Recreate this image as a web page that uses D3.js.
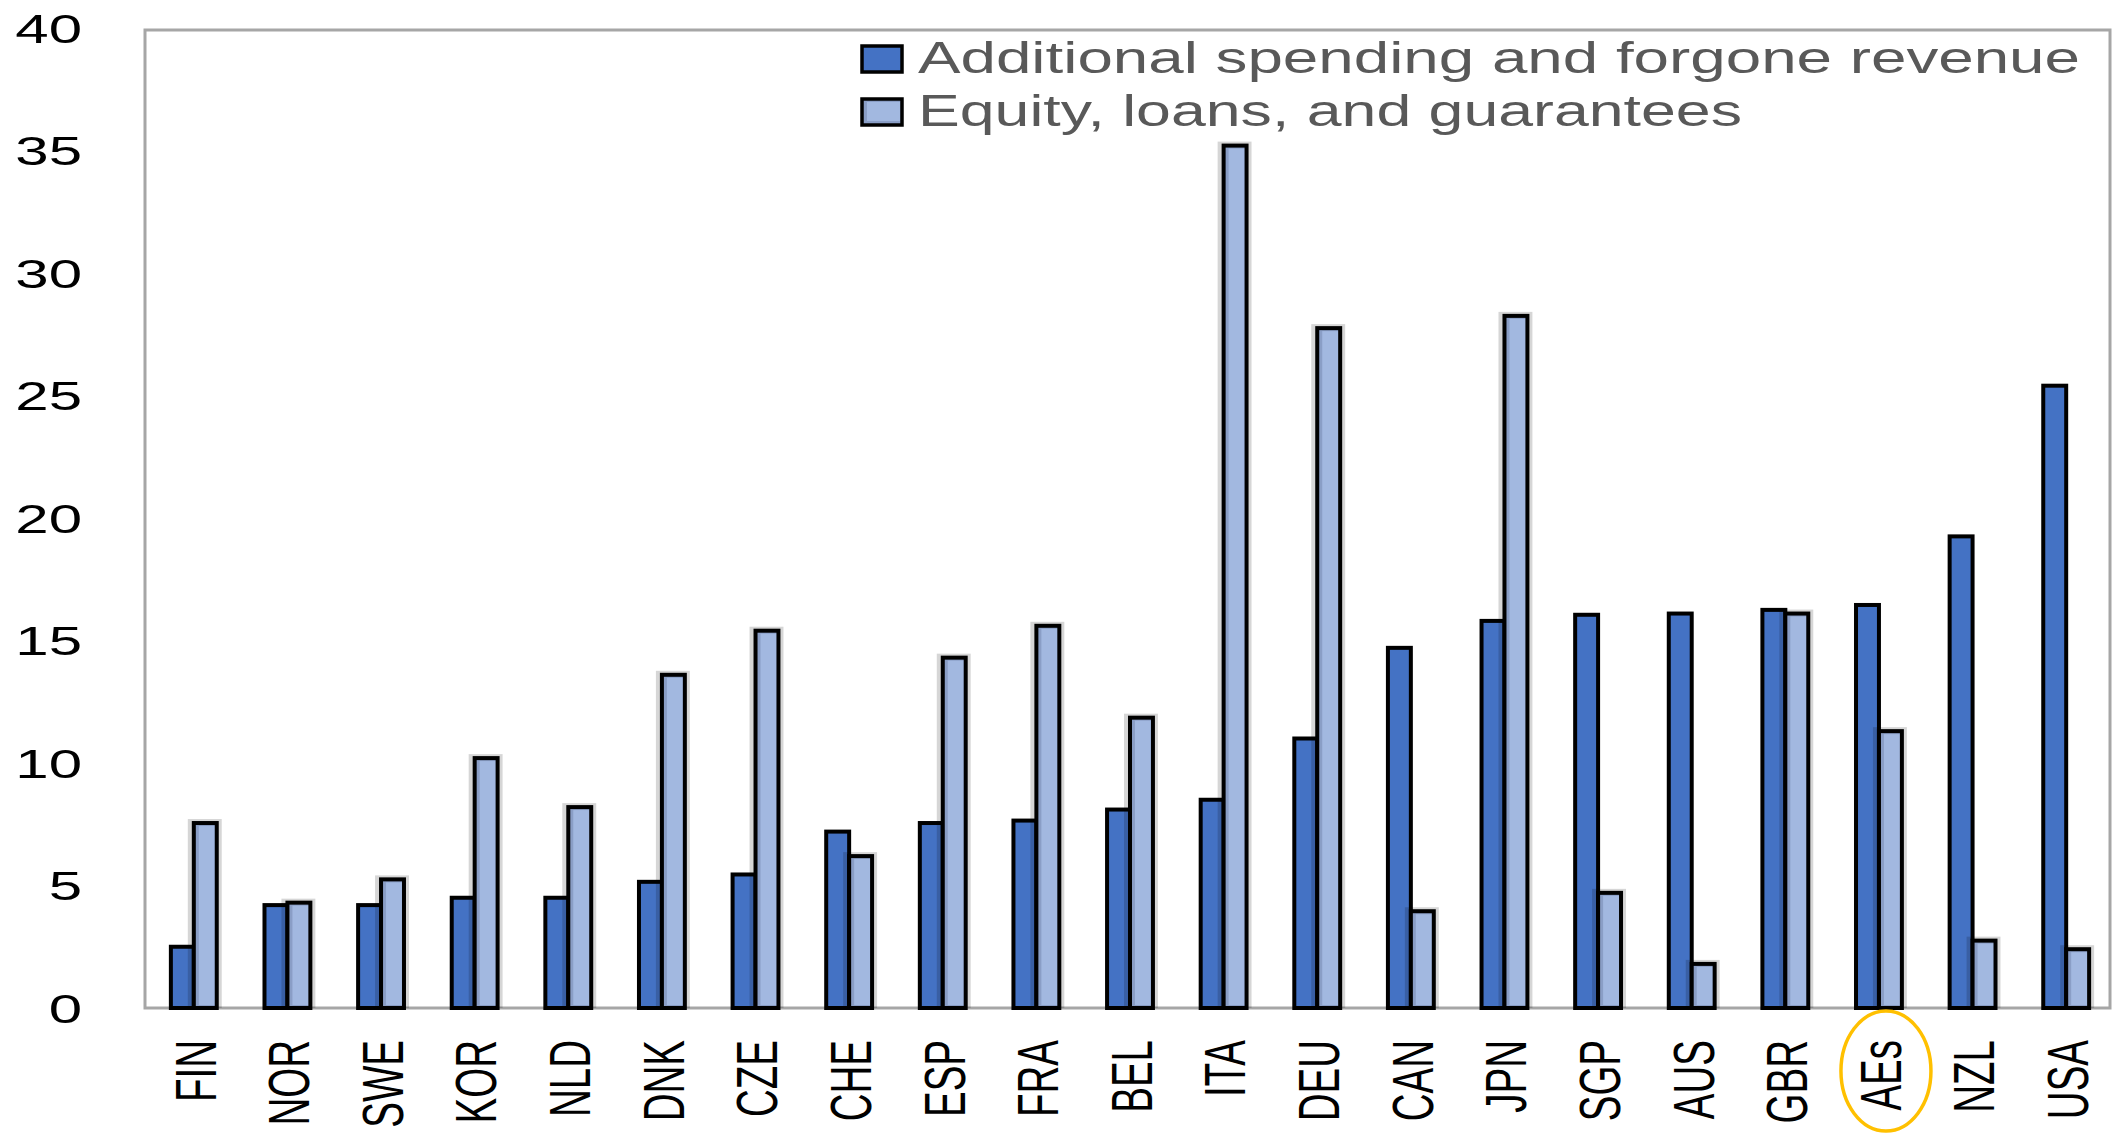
<!DOCTYPE html>
<html>
<head>
<meta charset="utf-8">
<script src="https://cdn.jsdelivr.net/npm/d3@7"></script>
<style>
  body { margin: 0; background: #fff; }
  svg { display: block; }
</style>
</head>
<body>
<div id="chart-area"></div>
<script>
// data
var countries = ["FIN", "NOR", "SWE", "KOR", "NLD", "DNK", "CZE", "CHE", "ESP", "FRA", "BEL",
                 "ITA", "DEU", "CAN", "JPN", "SGP", "AUS", "GBR", "AEs", "NZL", "USA"];
var spending = [2.5, 4.2, 4.2, 4.5, 4.5, 5.15, 5.45, 7.2, 7.55, 7.65, 8.1,
                8.5, 11.0, 14.7, 15.8, 16.05, 16.1, 16.25, 16.45, 19.25, 25.4];
var equity = [7.55, 4.3, 5.25, 10.2, 8.2, 13.6, 15.4, 6.2, 14.3, 15.6, 11.85,
              35.2, 27.75, 3.95, 28.25, 4.7, 1.8, 16.1, 11.3, 2.75, 2.4];
var seriesNames = ["Additional spending and forgone revenue", "Equity, loans, and guarantees"];
var yTicks = [0, 5, 10, 15, 20, 25, 30, 35, 40];
var highlight = "AEs";

var W = 2123, H = 1134;
var frame = { left: 145, right: 2110, top: 30, bottom: 1008 };
var darkFill = "#4472C4", lightFill = "#A2B8E0", lightEdge = "#8A9EC6";
var barStroke = 4;

var svg = d3.select("#chart-area")
    .append("svg")
    .attr("width", W)
    .attr("height", H);
svg.append("rect").attr("width", W).attr("height", H).attr("fill", "#fff");

// Scales
var x0 = d3.scaleBand().domain(countries).range([147, 2113])
    .paddingInner(0.51).paddingOuter(0.255);
var x1 = d3.scaleBand().domain([0, 1]).range([0, x0.bandwidth()]);
var y = d3.scaleLinear().domain([0, 40]).range([1008, 28]);

var rows = countries.map(function(c, i) {
    return { country: c, a: spending[i], b: equity[i] };
});

// Frame
svg.append("rect")
    .attr("x", frame.left).attr("y", frame.top)
    .attr("width", frame.right - frame.left)
    .attr("height", frame.bottom - frame.top)
    .attr("fill", "none")
    .attr("stroke", "#a6a6a6")
    .attr("stroke-width", 3);

// Y axis
var yAxis = svg.append("g")
    .attr("transform", "translate(" + frame.left + ",0)")
    .call(d3.axisLeft(y).tickValues(yTicks).tickSize(0).tickFormat(d3.format("d")));
yAxis.select(".domain").remove();
yAxis.selectAll("text")
    .attr("x", -63 / 1.5)
    .attr("dy", "0.36em")
    .attr("transform", "scale(1.5,1)")
    .attr("fill", "#000")
    .style("font-family", "'Liberation Sans', Arial, sans-serif")
    .style("font-size", "40px");

// X axis
var xAxis = svg.append("g")
    .attr("transform", "translate(0," + frame.bottom + ")")
    .call(d3.axisBottom(x0).tickSize(0));
xAxis.select(".domain").remove();
xAxis.selectAll("text")
    .attr("x", 0).attr("y", 0)
    .attr("dy", "0.36em")
    .attr("text-anchor", "end")
    .attr("transform", "translate(1,32) scale(1.5,1) rotate(-90)")
    .attr("fill", "#000")
    .style("font-family", "'Liberation Sans', Arial, sans-serif")
    .style("font-size", "38.5px");

// Bars
var groups = svg.append("g").selectAll("g")
    .data(rows).enter().append("g")
    .attr("transform", function(d) { return "translate(" + x0(d.country) + ",0)"; });

// dark series
groups.append("rect")
    .attr("x", x1(0))
    .attr("y", function(d) { return y(d.a); })
    .attr("width", x1.bandwidth())
    .attr("height", function(d) { return y(0) - y(d.a); })
    .attr("fill", darkFill)
    .attr("stroke", "#000")
    .attr("stroke-width", barStroke);

// shadow of light series
groups.append("rect")
    .attr("x", x1(1) - 6)
    .attr("y", function(d) { return y(d.b) - 4; })
    .attr("width", x1.bandwidth() + 11)
    .attr("height", function(d) { return y(0) - y(d.b) + 4; })
    .attr("fill", "rgba(0,0,0,0.16)");

// light series fill with darker inner edge
groups.append("rect")
    .attr("x", x1(1))
    .attr("y", function(d) { return y(d.b); })
    .attr("width", x1.bandwidth())
    .attr("height", function(d) { return y(0) - y(d.b); })
    .attr("fill", lightEdge);
groups.append("rect")
    .attr("x", x1(1) + 5)
    .attr("y", function(d) { return y(d.b) + 3; })
    .attr("width", x1.bandwidth() - 6)
    .attr("height", function(d) { return Math.max(0, y(0) - y(d.b) - 6); })
    .attr("fill", lightFill);
groups.append("rect")
    .attr("x", x1(1))
    .attr("y", function(d) { return y(d.b); })
    .attr("width", x1.bandwidth())
    .attr("height", function(d) { return y(0) - y(d.b); })
    .attr("fill", "none")
    .attr("stroke", "#000")
    .attr("stroke-width", barStroke);

// Legend
var legend = svg.append("g");
var legendRows = [
    { name: seriesNames[0], fill: darkFill, width: 1162 },
    { name: seriesNames[1], fill: lightFill, width: 824 }
];
legendRows.forEach(function(r, i) {
    var top = 46 + i * 53;
    legend.append("rect")
        .attr("x", 862).attr("y", top)
        .attr("width", 40).attr("height", 26)
        .attr("fill", i === 0 ? r.fill : lightEdge)
        .attr("stroke", "#000").attr("stroke-width", 3.5);
    if (i === 1) {
        legend.append("rect")
            .attr("x", 867).attr("y", top + 3)
            .attr("width", 33).attr("height", 19)
            .attr("fill", lightFill);
    }
    legend.append("text")
        .attr("x", 918)
        .attr("y", top + 27)
        .attr("textLength", r.width)
        .attr("lengthAdjust", "spacingAndGlyphs")
        .attr("fill", "#595959")
        .style("font-family", "'Liberation Sans', Arial, sans-serif")
        .style("font-size", "44px")
        .text(r.name);
});

// highlight ring around AEs label
svg.append("ellipse")
    .attr("cx", x0(highlight) + x0.bandwidth() / 2 + 7)
    .attr("cy", 1071)
    .attr("rx", 45)
    .attr("ry", 60)
    .attr("fill", "none")
    .attr("stroke", "#FFC000")
    .attr("stroke-width", 3.5);
</script>
</body>
</html>
